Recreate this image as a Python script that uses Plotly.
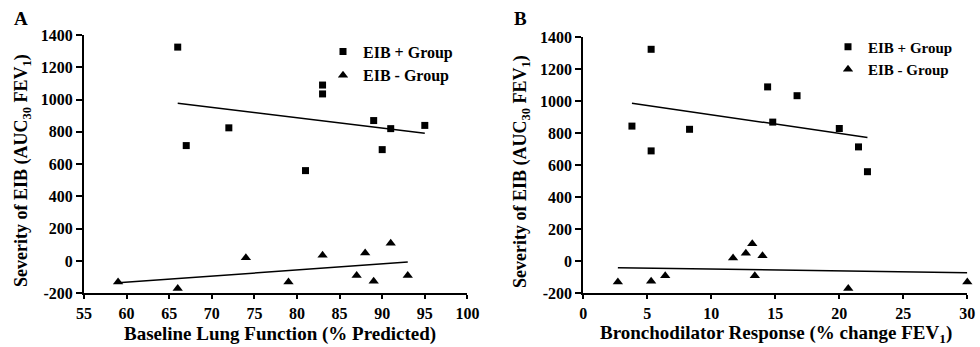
import numpy as np
import plotly.graph_objects as go

# ---- data ----
a_pos_x = [66, 67, 72, 81, 83, 83, 89, 90, 91, 95]
a_pos_y = [1325, 715, 825, 560, 1090, 1035, 870, 690, 820, 840]
a_neg_x = [59, 66, 74, 79, 83, 87, 88, 89, 91, 93]
a_neg_y = [-130, -170, 20, -130, 35, -90, 50, -125, 110, -90]

b_pos_x = [3.8, 5.3, 5.3, 8.3, 14.4, 14.8, 16.7, 20.0, 21.5, 22.2]
b_pos_y = [845, 1325, 690, 825, 1090, 870, 1035, 830, 715, 560]
b_neg_x = [2.7, 5.3, 6.4, 11.7, 12.7, 13.2, 13.4, 14.0, 20.7, 30.0]
b_neg_y = [-130, -125, -90, 20, 50, 110, -90, 35, -170, -130]

series_names = ["EIB + Group", "EIB - Group"]
a_xticks = [55, 60, 65, 70, 75, 80, 85, 90, 95, 100]
b_xticks = [0, 5, 10, 15, 20, 25, 30]
y_ticks = [-200, 0, 200, 400, 600, 800, 1000, 1200, 1400]
y_ticktext = ["-200", "0", "200", "400", "600", "800", "1000", "1200", "1400"]

FONT = "Liberation Serif"
W, H = 980, 347


def fit_line(xs, ys):
    k, b = np.polyfit(xs, ys, 1)
    x0, x1 = min(xs), max(xs)
    return [x0, x1], [k * x0 + b, k * x1 + b]


fig = go.Figure()

panels = [
    ("x", "y", "legend", a_pos_x, a_pos_y, a_neg_x, a_neg_y),
    ("x2", "y2", "legend2", b_pos_x, b_pos_y, b_neg_x, b_neg_y),
]
for xa, ya, lg, px, py, nx, ny in panels:
    fig.add_trace(go.Scatter(x=px, y=py, mode="markers", name=series_names[0],
                             marker=dict(symbol="square", size=7, color="black"),
                             xaxis=xa, yaxis=ya, legend=lg, cliponaxis=False))
    fig.add_trace(go.Scatter(x=nx, y=ny, mode="markers", name=series_names[1],
                             marker=dict(symbol="triangle-up", size=9, color="black"),
                             xaxis=xa, yaxis=ya, legend=lg, cliponaxis=False))
    lx, ly = fit_line(px, py)
    fig.add_trace(go.Scatter(x=lx, y=ly, mode="lines", line=dict(color="black", width=1.5),
                             xaxis=xa, yaxis=ya, showlegend=False, cliponaxis=False))
    lx, ly = fit_line(nx, ny)
    fig.add_trace(go.Scatter(x=lx, y=ly, mode="lines", line=dict(color="black", width=1.5),
                             xaxis=xa, yaxis=ya, showlegend=False, cliponaxis=False))

tickfont = dict(family=FONT, size=16, color="black", weight="bold")
axis_common = dict(showline=True, linecolor="black", linewidth=2, ticks="outside",
                   tickcolor="black", tickwidth=1.5, showgrid=False, zeroline=False,
                   tickfont=tickfont, automargin=False, fixedrange=True)

fig.update_layout(
    width=W, height=H,
    margin=dict(l=0, r=0, t=0, b=0),
    paper_bgcolor="white", plot_bgcolor="white",
    template="none",
    font=dict(family=FONT, color="black"),
    xaxis=dict(domain=[84 / W, 467.4 / W], range=[55, 100], tickvals=a_xticks,
               ticklen=4, anchor="y", **axis_common),
    yaxis=dict(domain=[(H - 293.3) / H, (H - 35) / H], range=[-200, 1400], tickvals=y_ticks,
               ticktext=y_ticktext, ticklen=6, anchor="x", **axis_common),
    xaxis2=dict(domain=[583.3 / W, 967.3 / W], range=[0, 30], tickvals=b_xticks,
                ticklen=4, anchor="y2", **axis_common),
    yaxis2=dict(domain=[(H - 293.3) / H, (H - 37.3) / H], range=[-200, 1400], tickvals=y_ticks,
                ticktext=y_ticktext, ticklen=6, anchor="x2", **axis_common),
    legend=dict(x=323 / W, y=(H - 34.5) / H, xanchor="left", yanchor="top",
                font=dict(family=FONT, size=16, color="black", weight="bold"),
                bgcolor="rgba(0,0,0,0)", tracegroupgap=0),
    legend2=dict(x=828 / W, y=(H - 30.5) / H, xanchor="left", yanchor="top",
                 font=dict(family=FONT, size=15, color="black", weight="bold"),
                 bgcolor="rgba(0,0,0,0)", tracegroupgap=0),
)

ytitle_font = dict(family=FONT, size=18, color="black", weight="bold")
xtitle_font = dict(family=FONT, size=19, color="black", weight="bold")
ytitle = "Severity of EIB (AUC<sub>30</sub> FEV<sub>1</sub>)"
annotations = [
    dict(text="A", x=21 / W, y=(H - 19) / H, font=dict(family=FONT, size=19, color="black", weight="bold")),
    dict(text="B", x=520 / W, y=(H - 19) / H, font=dict(family=FONT, size=19, color="black", weight="bold")),
    dict(text=ytitle, x=22 / W, y=(H - 171) / H, textangle=-90, font=ytitle_font),
    dict(text=ytitle, x=521 / W, y=(H - 172) / H, textangle=-90, font=ytitle_font),
    dict(text="Baseline Lung Function (% Predicted)", x=280 / W, y=(H - 334) / H, font=xtitle_font),
    dict(text="Bronchodilator Response (% change FEV<sub>1</sub>)", x=776 / W, y=(H - 334) / H, font=xtitle_font),
]
for a in annotations:
    a.update(xref="paper", yref="paper", showarrow=False, xanchor="center", yanchor="middle")
fig.update_layout(annotations=annotations)

fig.write_html("out.html")
